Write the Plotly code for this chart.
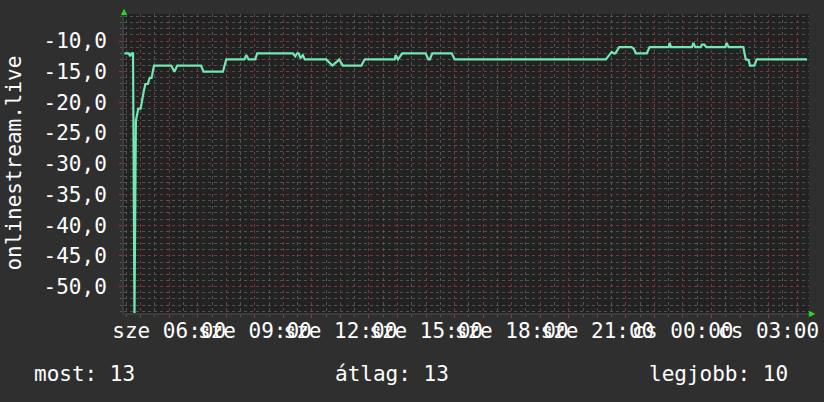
import plotly.graph_objects as go

# ---- data ----
day1 = "2024-09-11"
day2 = "2024-09-12"
times = [
    "04:26", "04:35", "04:38", "04:41", "04:44", "04:47", "04:50", "04:52", "04:55", "05:00",
    "05:03", "05:07", "05:10", "05:15", "05:19", "05:23", "05:28", "06:04", "06:11", "06:17",
    "07:07", "07:12", "07:53", "08:00", "08:38", "08:42", "08:47", "09:01", "09:05", "10:20",
    "10:25", "10:29", "10:32", "10:36", "10:41", "10:45", "11:30", "11:37", "11:43", "11:52",
    "11:57", "12:02", "12:05", "12:44", "12:51", "13:54", "13:56", "14:01", "14:10", "14:59",
    "15:05", "15:08", "15:13", "15:54", "16:00", "21:18", "21:23", "21:27", "21:30", "21:35",
    "21:38", "21:46", "22:12", "22:17", "22:21", "22:44", "22:50", "23:30", "23:32", "23:35",
    "+00:19", "+00:22", "+00:26", "+00:37", "+00:40", "+00:45", "+00:49", "+01:29", "+01:32", "+01:36",
    "+02:07", "+02:12", "+02:18", "+02:21", "+02:30", "+02:35", "+04:21",
]
values = [
    -12, -12, -12.5, -12, -12, -54.5, -23, -22, -21, -21,
    -19.5, -18, -17, -17, -16, -16, -14, -14, -15, -14,
    -14, -15, -15, -13, -13, -12.3, -13, -13, -12, -12,
    -12.5, -12, -12, -12.8, -12.3, -13, -13, -13.6, -14, -13.4,
    -13, -13.6, -14, -14, -13, -13, -12.3, -13, -12, -12,
    -13, -13, -12, -12, -13, -13, -12.5, -12, -11.8, -12,
    -12, -11, -11, -11.3, -12, -12, -11, -11, -10.3, -11,
    -11, -10.3, -11, -11, -10.6, -10.6, -11, -11, -10.3, -11,
    -11, -13, -13.1, -14, -14, -13, -13,
]
x_tick_hours = ["05:00", "06:00", "07:00", "08:00", "09:00", "10:00", "11:00", "12:00",
                "13:00", "14:00", "15:00", "16:00", "17:00", "18:00", "19:00", "20:00",
                "21:00", "22:00", "23:00", "+00:00", "+01:00", "+02:00", "+03:00", "+04:00"]
x_tick_labels = ["", "sze 06:00", "", "", "sze 09:00", "", "", "sze 12:00",
                 "", "", "sze 15:00", "", "", "sze 18:00", "", "",
                 "sze 21:00", "", "", "cs 00:00", "", "", "cs 03:00", ""]
y_tick_vals = [-10, -15, -20, -25, -30, -35, -40, -45, -50]
y_tick_labels = ["-10,0", "-15,0", "-20,0", "-25,0", "-30,0", "-35,0", "-40,0", "-45,0", "-50,0"]
y_title = "onlinestream.live"
legend_texts = ["most: 13", "átlag: 13", "legjobb: 10"]
x_start, x_end = "04:25", "+04:25"


def ts(t):
    if t.startswith("+"):
        return f"{day2} {t[1:]}"
    return f"{day1} {t}"


xs = [ts(t) for t in times]
FONT = "DejaVu Sans Mono"
LINE = "#72e8b2"
MAJOR = "rgba(125,50,50,0.85)"
MINOR = "rgba(95,95,95,0.8)"
BG = "#2f2f2f"

fig = go.Figure()
fig.add_trace(go.Scatter(x=xs, y=values, mode="lines",
                         line=dict(color=LINE, width=2.2, shape="linear"),
                         hoverinfo="skip"))

fig.update_layout(
    width=824, height=402,
    margin=dict(l=124, r=15, t=14, b=89, autoexpand=False),
    paper_bgcolor=BG,
    plot_bgcolor="#222222",
    showlegend=False,
    font=dict(family=FONT, size=21, color="#ffffff"),
)
fig.update_xaxes(
    type="date",
    automargin=False,
    range=[ts(x_start), ts(x_end)],
    tickmode="array",
    tickvals=[ts(t) for t in x_tick_hours],
    ticktext=x_tick_labels,
    tickangle=0,
    showgrid=True, gridcolor=MAJOR, griddash="dot", gridwidth=1,
    minor=dict(dtick=30 * 60 * 1000, showgrid=True, gridcolor=MINOR,
               griddash="dot", ticks="outside", ticklen=2, tickcolor="#555555"),
    ticks="outside", ticklen=3, tickcolor="#7a4040",
    showline=True, linecolor="#3c3c3c", linewidth=2,
    zeroline=False,
    tickfont=dict(family=FONT, size=21, color="#ffffff"),
    ticklabelstandoff=-5,
    fixedrange=True,
)
fig.update_yaxes(
    automargin=False,
    range=[-54.3, -5.6],
    tickmode="array",
    tickvals=y_tick_vals,
    ticktext=y_tick_labels,
    showgrid=True, gridcolor=MAJOR, griddash="dot", gridwidth=1,
    minor=dict(dtick=1, showgrid=True, gridcolor=MINOR,
               griddash="dot", ticks="outside", ticklen=2, tickcolor="#555555"),
    ticks="outside", ticklen=3, tickcolor="#7a4040",
    showline=True, linecolor="#3c3c3c", linewidth=2,
    zeroline=False,
    tickfont=dict(family=FONT, size=21, color="#ffffff"),
    ticklabelstandoff=8,
    fixedrange=True,
)

# y title
fig.add_annotation(text=y_title, xref="paper", yref="paper", x=-0.162, y=0.5,
                   textangle=-90, showarrow=False, xanchor="center", yanchor="middle",
                   font=dict(family=FONT, size=21, color="#ffffff"))
# legend line
fig.add_annotation(text=legend_texts[0], xref="paper", yref="paper", x=-0.134, y=-0.204,
                   showarrow=False, xanchor="left", yanchor="middle",
                   font=dict(family=FONT, size=21, color="#ffffff"))
fig.add_annotation(text=legend_texts[1], xref="paper", yref="paper", x=0.305, y=-0.204,
                   showarrow=False, xanchor="left", yanchor="middle",
                   font=dict(family=FONT, size=21, color="#ffffff"))
fig.add_annotation(text=legend_texts[2], xref="paper", yref="paper", x=0.972, y=-0.204,
                   showarrow=False, xanchor="right", yanchor="middle",
                   font=dict(family=FONT, size=21, color="#ffffff"))
# green arrows at the ends of the axes
fig.add_annotation(text="▲", xref="paper", yref="paper", x=0.0, y=1.0, showarrow=False,
                   xanchor="center", yanchor="middle", yshift=3,
                   font=dict(family="DejaVu Sans", size=8, color="#22dd22"))
fig.add_annotation(text="▶", xref="paper", yref="paper", x=1.0, y=0.0, showarrow=False,
                   xanchor="center", yanchor="middle", xshift=3,
                   font=dict(family="DejaVu Sans", size=8, color="#22dd22"))

page_css = ("document.documentElement.style.margin='0';"
            "document.body.style.margin='0';"
            f"document.body.style.background='{BG}';")
fig.write_html("out.html", post_script=page_css, config={"displayModeBar": False})
